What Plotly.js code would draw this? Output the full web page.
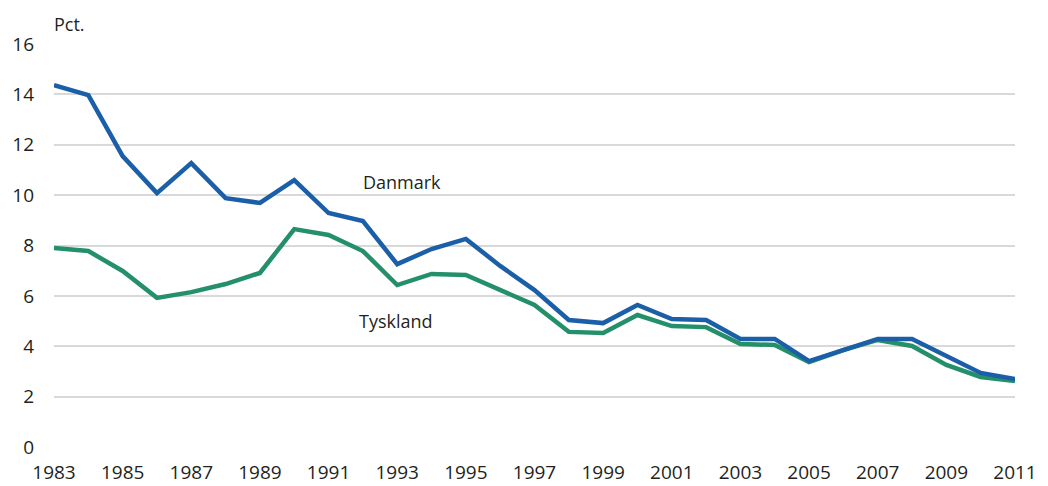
<!DOCTYPE html>
<html>
<head>
<meta charset="utf-8">
<script src="https://cdn.plot.ly/plotly-3.0.1.min.js"></script>
<style>
  body { margin: 0; background: #fff; }
  #plotDiv { width: 1048px; height: 486px; }
</style>
</head>
<body>
<div id="plotDiv"></div>
<script>
let years = [];
for (let y = 1983; y <= 2011; y++) years.push(y);

// pct.
let danmark = [14.37, 13.97, 11.55, 10.08, 11.27, 9.88, 9.69, 10.6, 9.29, 8.97,
  7.26, 7.86, 8.26, 7.19, 6.23, 5.04, 4.92, 5.64, 5.08, 5.04,
  4.29, 4.29, 3.41, 3.85, 4.29, 4.29, 3.61, 2.94, 2.7];
let tyskland = [7.9, 7.78, 6.99, 5.92, 6.15, 6.47, 6.91, 8.65, 8.42, 7.78,
  6.43, 6.87, 6.83, 6.23, 5.64, 4.57, 4.53, 5.24, 4.8, 4.76,
  4.09, 4.05, 3.37, 3.85, 4.25, 4.01, 3.26, 2.78, 2.62];

let xTicks = [1983, 1985, 1987, 1989, 1991, 1993, 1995, 1997, 1999, 2001, 2003, 2005, 2007, 2009, 2011];
let yTicks = [0, 2, 4, 6, 8, 10, 12, 14, 16];

let font = "Open Sans, sans-serif";

let data = [
  {
    x: years, y: tyskland, type: "scatter", mode: "lines",
    line: { color: "#24906a", width: 4.5 }, name: "Tyskland"
  },
  {
    x: years, y: danmark, type: "scatter", mode: "lines",
    line: { color: "#1b5fa8", width: 4.5 }, name: "Danmark"
  }
];

let layout = {
  width: 1048,
  height: 486,
  margin: { l: 54, r: 33, t: 44, b: 39 },
  showlegend: false,
  paper_bgcolor: "#fff",
  plot_bgcolor: "#fff",
  font: { family: font, size: 19, color: "#231f20" },
  xaxis: {
    range: [1983, 2011],
    tickvals: xTicks,
    ticktext: xTicks.map(String),
    showgrid: false,
    zeroline: false,
    showline: false,
    ticks: "",
    ticklabelstandoff: 12,
    tickfont: { size: 19 }
  },
  yaxis: {
    range: [0, 16],
    tickvals: yTicks,
    showgrid: true,
    gridcolor: "#d9d9d9",
    gridwidth: 2,
    zeroline: false,
    showline: false,
    ticks: "",
    ticklabelstandoff: 19,
    tickfont: { size: 19 }
  },
  annotations: [
    { text: "Pct.", xref: "paper", yref: "paper", x: 0, y: 1, xanchor: "left", yanchor: "bottom",
      xshift: -2, yshift: 6, showarrow: false, font: { size: 18 } },
    { text: "Danmark", x: 1993.15, y: 10.52, showarrow: false, font: { size: 18 } },
    { text: "Tyskland", x: 1992.95, y: 5.0, showarrow: false, font: { size: 18 } }
  ]
};

Plotly.newPlot("plotDiv", data, layout, { displayModeBar: false });
</script>
</body>
</html>
